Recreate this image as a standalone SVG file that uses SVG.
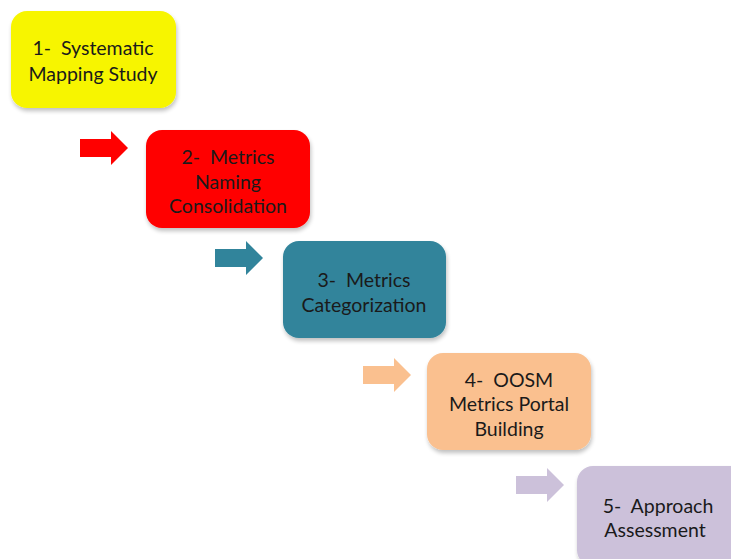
<svg xmlns="http://www.w3.org/2000/svg" width="731" height="559" viewBox="0 0 731 559">
<defs>
<filter id="sh" x="-10%" y="-10%" width="130%" height="130%">
<feGaussianBlur in="SourceAlpha" stdDeviation="2"/>
<feOffset dx="1" dy="3" result="b"/>
<feComponentTransfer><feFuncA type="linear" slope="0.25"/></feComponentTransfer>
<feMerge><feMergeNode/><feMergeNode in="SourceGraphic"/></feMerge>
</filter>
<path id="arr" d="M0,8 H31 V0 L48,17 L31,34 V26 H0 Z"/>
</defs>
<style>
.box{filter:url(#sh)}
text{font-family:Lato,"Open Sans","Liberation Sans",sans-serif;font-size:19.5px;fill:#1a1a1a;text-anchor:middle;white-space:pre}
</style>
<rect width="731" height="559" fill="#ffffff"/>
<g id="connectors">
<use href="#arr" x="80" y="131" fill="#ff0000"/>
<use href="#arr" x="215" y="241" fill="#31849b"/>
<use href="#arr" x="363" y="358" fill="#fac08f"/>
<use href="#arr" x="516" y="468" fill="#ccc1da"/>
</g>
<g id="n1">
<rect class="box" x="11" y="11" width="165" height="97" rx="16" fill="#f7f500"/>
<text x="93" y="55" xml:space="preserve">1-  Systematic</text>
<text x="93" y="81">Mapping Study</text>
</g>
<g id="n2">
<rect class="box" x="146" y="130" width="164" height="98" rx="16" fill="#ff0000"/>
<text x="228" y="164" xml:space="preserve">2-  Metrics</text>
<text x="228" y="189">Naming</text>
<text x="228" y="213">Consolidation</text>
</g>
<g id="n3">
<rect class="box" x="283" y="241" width="163" height="97" rx="16" fill="#31849b"/>
<text x="364" y="287" xml:space="preserve">3-  Metrics</text>
<text x="364" y="312">Categorization</text>
</g>
<g id="n4">
<rect class="box" x="427" y="353" width="164" height="97" rx="16" fill="#fac08f"/>
<text x="509" y="387" xml:space="preserve">4-  OOSM</text>
<text x="509" y="411">Metrics Portal</text>
<text x="509" y="436">Building</text>
</g>
<g id="n5">
<rect class="box" x="577" y="466" width="170" height="100" rx="16" fill="#ccc1da"/>
<text x="658" y="513" xml:space="preserve">5-  Approach</text>
<text x="655" y="537">Assessment</text>
</g>
</svg>
